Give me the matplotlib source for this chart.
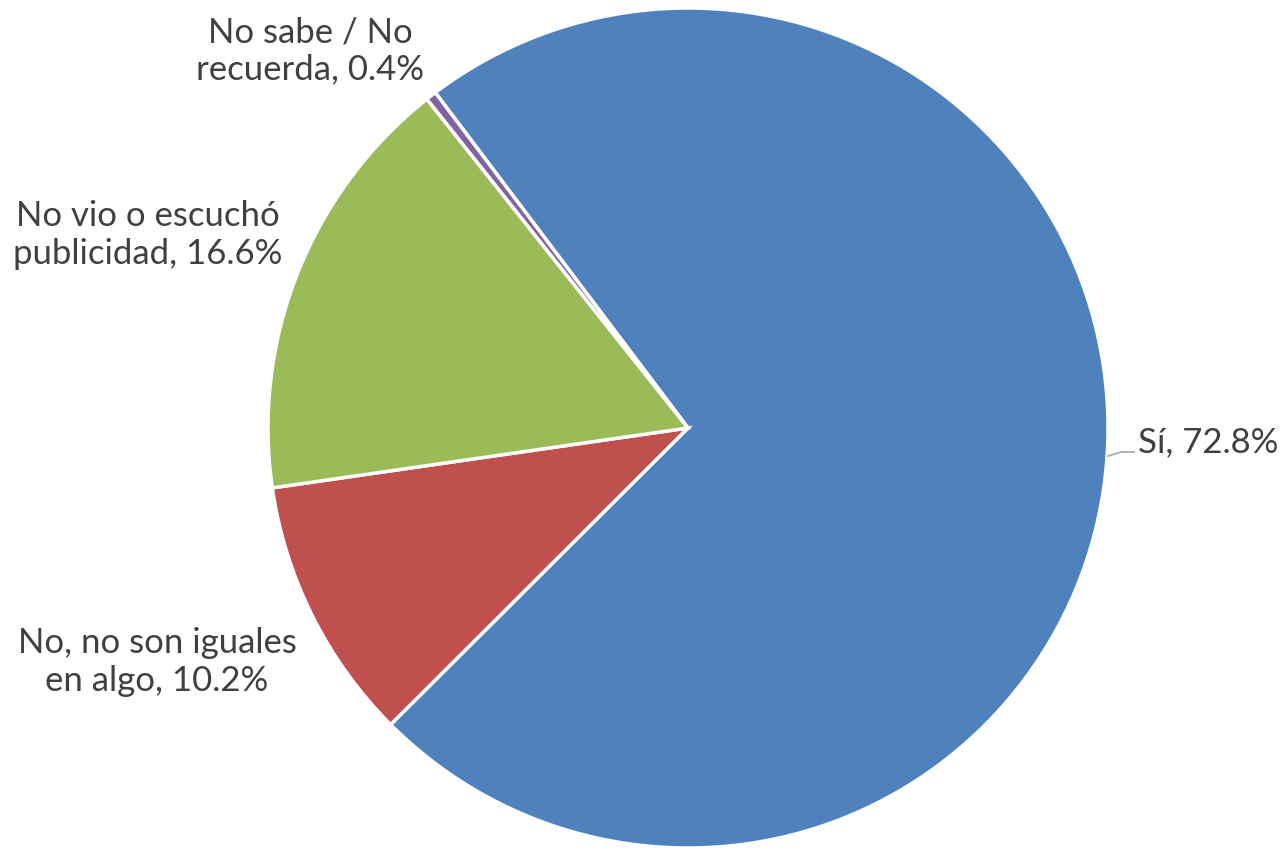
import matplotlib.pyplot as plt

labels = ["Sí", "No, no son iguales\nen algo", "No vio o escuchó\npublicidad", "No sabe / No\nrecuerda"]
values = [72.8, 10.2, 16.6, 0.4]
colors = ["#4F81BD", "#C0504D", "#9BBB59", "#8064A2"]

W, H = 1281, 848
cx, cy, R = 688, 428, 420  # pie centre and radius in pixels

fig = plt.figure(figsize=(W / 100, H / 100), dpi=100)
ax = fig.add_axes([0, 0, 1, 1])

ax.pie(values, colors=colors, startangle=127, counterclock=False,
       radius=1.0, wedgeprops=dict(edgecolor="white", linewidth=2.5))

ax.set_xlim(-cx / R, (W - cx) / R)
ax.set_ylim(-(H - cy) / R, cy / R)
ax.set_aspect("equal")
ax.axis("off")


def px(x, y):
    return (x - cx) / R, (cy - y) / R


font = dict(family="Lato", fontsize=25, color="#404040", linespacing=1.2)
label_pos = [(1138, 442, "left"), (157, 662, "center"), (148, 235, "center"), (310, 51, "center")]
for lab, v, (x, y, ha) in zip(labels, values, label_pos):
    tx, ty = px(x, y)
    ax.text(tx, ty, f"{lab}, {v}%", ha=ha, va="center", **font)

# leader line for the big slice
x0, y0 = px(1108, 456)
x1, y1 = px(1121, 452)
x2, y2 = px(1134, 452)
ax.plot([x0, x1, x2], [y0, y1, y2], color="#A6A6A6", lw=1.2)

fig.savefig("out.png", dpi=100, facecolor="white")
